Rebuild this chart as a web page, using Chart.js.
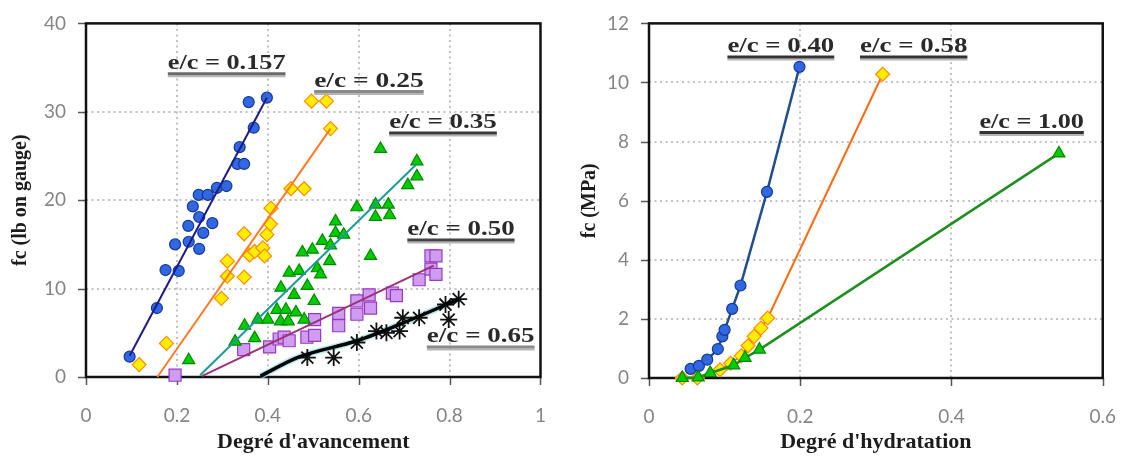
<!DOCTYPE html>
<html><head><meta charset="utf-8">
<script src="https://cdn.jsdelivr.net/npm/chart.js@4.4.1/dist/chart.umd.min.js"></script>
<style>
html,body{margin:0;padding:0;background:#fff;}
#wrap{position:relative;width:1135px;height:457px;overflow:hidden;background:#fff;}
#c1{position:absolute;left:0;top:0;width:565px;height:457px;}
#c2{position:absolute;left:565px;top:0;width:570px;height:457px;}
</style></head><body>
<div id="wrap"><canvas id="c1" width="565" height="457"></canvas><canvas id="c2" width="570" height="457"></canvas></div>
<script>
// ---------- LEFT CHART DATA: fc (lb on gauge) vs Degré d'avancement ----------
const xTicksLeft = ['0','0.2','0.4','0.6','0.8','1'];
const yTicksLeft = ['0','10','20','30','40'];

const ec157X = [0.096,0.156,0.175,0.204,0.196,0.226,0.249,0.225,0.258,0.278,0.249,0.235,0.248,0.268,0.288,0.309,0.333,0.348,0.338,0.369,0.358,0.398];
const ec157Y = [2.3,7.8,12.1,12.0,15.0,15.3,14.5,17.1,16.3,17.4,18.1,19.3,20.6,20.6,21.4,21.6,24.1,24.1,26.0,28.2,31.1,31.6];
const ec157FitX = [0.096,0.398];
const ec157FitY = [2.4,31.6];

const ec25X = [0.117,0.177,0.298,0.311,0.311,0.348,0.348,0.360,0.371,0.389,0.393,0.398,0.406,0.407,0.451,0.480,0.538,0.496,0.529];
const ec25Y = [1.4,3.8,8.9,11.4,13.1,11.3,16.2,13.8,14.2,14.6,13.7,16.1,17.3,19.1,21.3,21.3,28.1,31.2,31.2];
const ec25FitX = [0.157,0.538];
const ec25FitY = [0,28.1];

const ec35X = [0.226,0.328,0.349,0.371,0.378,0.400,0.420,0.428,0.445,0.440,0.462,0.480,0.429,0.458,0.447,0.469,0.487,0.476,0.498,0.502,0.520,0.538,0.549,0.549,0.567,0.596,0.637,0.665,0.637,0.668,0.626,0.536,0.509,0.516,0.648,0.728,0.728,0.708];
const ec35Y = [1.9,4.0,5.8,4.4,6.5,6.5,7.6,6.3,6.3,7.6,7.3,6.5,10.1,9.3,11.8,12.0,10.3,14.1,14.4,8.6,15.4,14.9,17.6,16.3,16.1,19.2,19.5,19.5,18.1,18.3,13.7,13.1,12.3,11.6,25.8,24.4,22.7,21.7];
const ec35FitX = [0.251,0.726];
const ec35FitY = [0.2,24.0];

const ec50X = [0.196,0.347,0.404,0.425,0.436,0.447,0.486,0.503,0.503,0.556,0.556,0.596,0.596,0.623,0.626,0.674,0.683,0.733,0.759,0.770,0.759,0.770];
const ec50Y = [0.2,3.1,3.4,4.3,4.5,4.1,4.5,4.7,6.5,7.2,5.8,8.6,7.1,9.3,7.8,9.5,9.2,11.0,12.2,11.6,13.7,13.7];
const ec50FitX = [0.255,0.765];
const ec50FitY = [0.1,12.6];

const ec65X = [0.487,0.545,0.596,0.639,0.661,0.690,0.697,0.733,0.791,0.798,0.820];
const ec65Y = [2.2,2.2,3.9,5.2,5.0,5.2,6.7,6.7,8.2,6.5,8.8];
const ec65FitX = [0.384,0.465,0.596,0.697,0.820];
const ec65FitY = [0.1,2.2,4.1,6.1,8.8];

const leftLabels = ['e/c = 0.157','e/c = 0.25','e/c = 0.35','e/c = 0.50','e/c = 0.65'];
const leftLabelX0 = [0.180,0.502,0.667,0.707,0.750];
const leftLabelX1 = [0.439,0.743,0.904,0.943,0.987];
const leftLabelY  = [35.6,33.6,28.9,16.8,4.7];

// ---------- RIGHT CHART DATA: fc (MPa) vs Degré d'hydratation ----------
const xTicksRight = ['0','0.2','0.4','0.6'];
const yTicksRight = ['0','2','4','6','8','10','12'];

const ec40X = [0.055,0.066,0.077,0.091,0.097,0.100,0.110,0.121,0.156,0.199];
const ec40Y = [0.31,0.41,0.62,0.98,1.41,1.63,2.34,3.13,6.3,10.53];

const ec58X = [0.044,0.064,0.094,0.108,0.122,0.131,0.139,0.148,0.157,0.309];
const ec58Y = [0,0,0.28,0.5,0.75,1.09,1.41,1.69,2.03,10.28];

const ec100X = [0.044,0.065,0.081,0.112,0.127,0.146,0.542];
const ec100Y = [0,0.02,0.17,0.43,0.68,0.96,7.6];

const rightLabels = ['e/c = 0.40','e/c = 0.58','e/c = 1.00'];
const rightLabelX0 = [0.1037,0.279,0.437];
const rightLabelX1 = [0.245,0.421,0.575];
const rightLabelY  = [11.25,11.25,8.7];

// ---------- helpers ----------
const pts = (xs, ys) => xs.map((x, i) => ({x, y: ys[i]}));
const SERIF = '"Liberation Serif", "Times New Roman", serif';
const SANS = 'Lato, "Open Sans", sans-serif';

// dotted grid, outer tick marks and plot frame, placed from the chart's own scales
const framePlugin = {
  id: 'frame',
  beforeDatasetsDraw(chart) {
    const {ctx, chartArea: a, scales: {x, y}} = chart;
    ctx.save();
    ctx.lineWidth = 2;
    ctx.strokeStyle = '#c2c2c2';
    ctx.setLineDash([2, 3.5]);
    x.ticks.forEach((t, i) => {
      if (i === 0 || i === x.ticks.length - 1) return;
      const px = Math.round(x.getPixelForValue(t.value));
      ctx.beginPath(); ctx.moveTo(px, a.top); ctx.lineTo(px, a.bottom); ctx.stroke();
    });
    y.ticks.forEach((t, i) => {
      if (i === 0 || i === y.ticks.length - 1) return;
      const py = Math.round(y.getPixelForValue(t.value));
      ctx.beginPath(); ctx.moveTo(a.left, py); ctx.lineTo(a.right, py); ctx.stroke();
    });
    ctx.setLineDash([]);
    ctx.strokeStyle = '#555';
    ctx.lineWidth = 1.5;
    x.ticks.forEach(t => {
      const px = Math.round(x.getPixelForValue(t.value)) + 0.5;
      ctx.beginPath(); ctx.moveTo(px, a.bottom); ctx.lineTo(px, a.bottom + 8); ctx.stroke();
    });
    y.ticks.forEach(t => {
      const py = Math.round(y.getPixelForValue(t.value)) + 0.5;
      ctx.beginPath(); ctx.moveTo(a.left - 8, py); ctx.lineTo(a.left, py); ctx.stroke();
    });
    ctx.strokeStyle = '#111';
    ctx.lineWidth = 2.5;
    ctx.strokeRect(a.left, a.top, a.right - a.left, a.bottom - a.top);
    ctx.restore();
  }
};

function labelPlugin(texts, x0s, x1s, ys, lineColors) {
  return {
    id: 'eclabels',
    afterDraw(chart) {
      const {ctx, scales: {x, y}} = chart;
      ctx.save();
      texts.forEach((t, i) => {
        const px0 = x.getPixelForValue(x0s[i]);
        const px1 = x.getPixelForValue(x1s[i]);
        const py = y.getPixelForValue(ys[i]);
        ctx.font = 'bold 22px ' + SERIF;
        ctx.textBaseline = 'middle';
        ctx.textAlign = 'left';
        const w = ctx.measureText(t).width;
        const sx = (px1 - px0) / w;
        ctx.save();
        ctx.translate(px0, py);
        ctx.scale(sx, 1);
        ctx.fillStyle = '#2a2a2a';
        ctx.fillText(t, 0, 1);
        ctx.restore();
        ctx.lineCap = 'butt';
        ctx.strokeStyle = '#b5b5b5';
        ctx.lineWidth = 2;
        ctx.beginPath(); ctx.moveTo(px0, py + 14); ctx.lineTo(px1, py + 14); ctx.stroke();
        ctx.strokeStyle = lineColors[i];
        ctx.lineWidth = 3;
        ctx.beginPath(); ctx.moveTo(px0, py + 11.5); ctx.lineTo(px1, py + 11.5); ctx.stroke();
      });
      ctx.restore();
    }
  };
}

function axis(min, max, step, labels, title, fitSize, horizontal, titlePad, tickPad) {
  return {
    type: 'linear', min, max,
    ticks: {
      stepSize: step, autoSkip: false, maxRotation: 0,
      color: '#858585', font: {family: SANS, size: 19}, padding: tickPad,
      callback: (v, i) => labels[i]
    },
    grid: {
      display: true, drawOnChartArea: false, drawTicks: true, tickLength: 8,
      color: 'rgba(0,0,0,0)', tickColor: 'rgba(0,0,0,0)'
    },
    border: {display: false},
    title: {
      display: true, text: title, color: '#1c1c1c',
      font: {family: SERIF, weight: 'bold', size: horizontal ? 22 : 20},
      padding: horizontal ? {top: 0, bottom: titlePad} : {top: titlePad, bottom: 0}
    },
    afterFit: s => { if (horizontal) s.height = fitSize; else s.width = fitSize; }
  };
}

function scatterSet(data, style, radius, fill, border, bw) {
  return {data, showLine: false, pointStyle: style, pointRadius: radius, pointHoverRadius: radius,
    pointBackgroundColor: fill, pointBorderColor: border, pointBorderWidth: bw || 1.2, clip: false, order: 2};
}
function lineSet(data, color, width, extra) {
  return Object.assign({data, showLine: true, pointRadius: 0, borderColor: color, borderWidth: width,
    fill: false, clip: false, order: 1}, extra || {});
}

// ---------- LEFT CHART ----------
new Chart(document.getElementById('c1'), {
  type: 'scatter',
  data: {
    datasets: [
      scatterSet(pts(ec157X, ec157Y), 'circle', 5.5, '#2f68e0', '#17379a'),
      scatterSet(pts(ec25X, ec25Y), 'rectRot', 7, '#ffee00', '#ff8c00'),
      scatterSet(pts(ec35X, ec35Y), 'triangle', 7, '#00cc00', '#008a00'),
      scatterSet(pts(ec50X, ec50Y), 'rect', 8.5, '#cf9cf0', '#9a38c0'),
      scatterSet(pts(ec65X, ec65Y), 'star', 8.5, '#000', '#111', 1.8),
      lineSet(pts(ec157FitX, ec157FitY), '#1b1b8a', 2),
      lineSet(pts(ec25FitX, ec25FitY), '#ff7a22', 2),
      lineSet(pts(ec35FitX, ec35FitY), '#1b9a9a', 2),
      lineSet(pts(ec50FitX, ec50FitY), '#9a3378', 2),
      lineSet(pts(ec65FitX, ec65FitY), 'rgba(150,225,235,0.7)', 6.5, {order: 3, cubicInterpolationMode: 'monotone'}),
      lineSet(pts(ec65FitX, ec65FitY), '#000', 3.5, {cubicInterpolationMode: 'monotone'})
    ]
  },
  options: {
    responsive: false, animation: false, devicePixelRatio: 1,
    layout: {padding: {left: 0, right: 19, top: 21, bottom: 0}},
    plugins: {legend: {display: false}, tooltip: {enabled: false}},
    scales: {
      x: axis(0, 1, 0.2, xTicksLeft, "Degré d'avancement", 80, true, 1, 19),
      y: axis(0, 40, 10, yTicksLeft, 'fc (lb on gauge)', 86, false, 9, 12)
    }
  },
  plugins: [framePlugin, labelPlugin(leftLabels, leftLabelX0, leftLabelX1, leftLabelY, ['#6a6a6a','#8a8a8a','#3a3a3a','#444','#8a8a8a'])]
});

// ---------- RIGHT CHART ----------
new Chart(document.getElementById('c2'), {
  type: 'scatter',
  data: {
    datasets: [
      lineSet(pts(ec40X, ec40Y), '#1f4f8f', 2.5, {order: 1, pointRadius: 5.5, pointStyle: 'circle', pointBackgroundColor: '#2f68e0', pointBorderColor: '#17379a', pointBorderWidth: 1.2}),
      lineSet(pts(ec58X, ec58Y), '#ff6a10', 2, {order: 2, pointRadius: 7, pointStyle: 'rectRot', pointBackgroundColor: '#ffee00', pointBorderColor: '#ff8c00', pointBorderWidth: 1.2}),
      lineSet(pts(ec100X, ec100Y), '#1e8f1e', 2.5, {order: 0, pointRadius: 7, pointStyle: 'triangle', pointBackgroundColor: '#00cc00', pointBorderColor: '#008a00', pointBorderWidth: 1.2})
    ]
  },
  options: {
    responsive: false, animation: false, devicePixelRatio: 1,
    layout: {padding: {left: 0, right: 23, top: 22, bottom: 0}},
    plugins: {legend: {display: false}, tooltip: {enabled: false}},
    scales: {
      x: axis(0, 0.6, 0.2, xTicksRight, "Degré d'hydratation", 79, true, 1, 19),
      y: axis(0, 12, 2, yTicksRight, 'fc (MPa)', 84, false, 13, 12)
    }
  },
  plugins: [framePlugin, labelPlugin(rightLabels, rightLabelX0, rightLabelX1, rightLabelY, ['#333','#333','#333'])]
});
</script>
</body></html>
